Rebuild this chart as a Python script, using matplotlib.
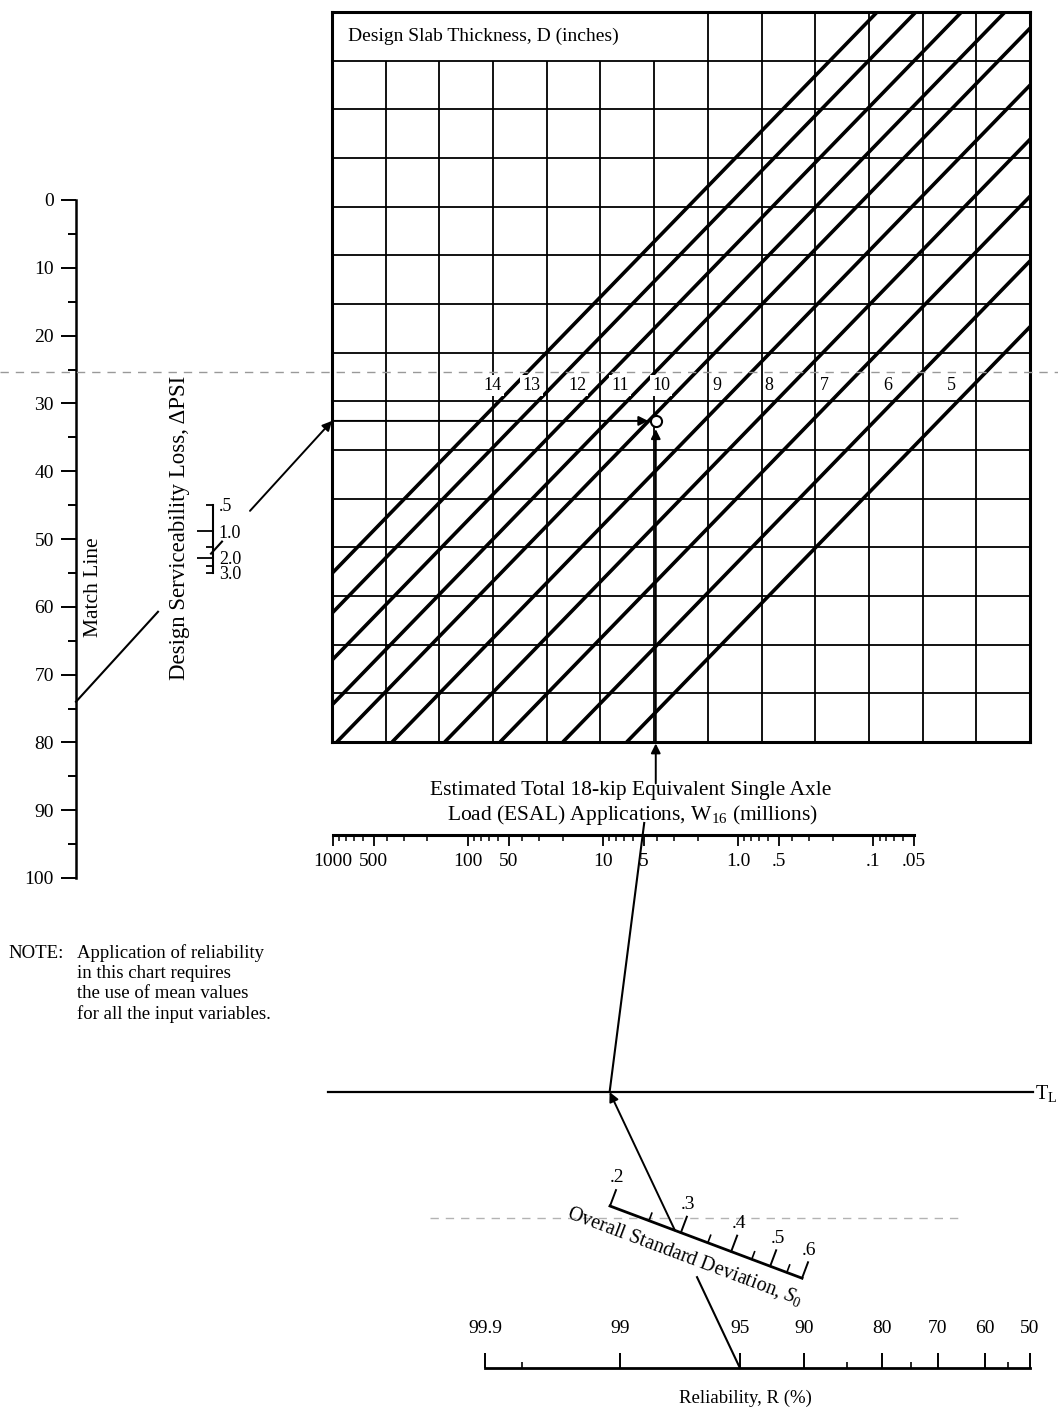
import matplotlib
matplotlib.use("Agg")
import matplotlib.pyplot as plt
import matplotlib.transforms as mtransforms
from matplotlib.ticker import FixedLocator, FixedFormatter, LogLocator, NullFormatter
from statistics import NormalDist
import numpy as np

plt.rcParams['font.family'] = ['Liberation Serif', 'DejaVu Serif']
plt.rcParams['mathtext.fontset'] = 'custom'
plt.rcParams['mathtext.rm'] = 'Liberation Serif'
plt.rcParams['mathtext.it'] = 'Liberation Serif:italic'

W, H = 1058, 1414

# --- данные шкал ---
match_major = list(range(0, 101, 10))
match_minor = list(range(5, 100, 10))

dpsi_major = [1.0, 2.0]
dpsi_major_lab = ['1.0', '2.0']
dpsi_minor = [0.5, 1.5, 2.5, 3.0]
dpsi_minor_lab = ['.5', '', '', '3.0']

slab_D = [14, 13, 12, 11, 10, 9, 8, 7, 6, 5]
slab_u0 = [-3.05, -2.33, -1.48, -0.67, 0.09, 1.12, 2.10, 3.13, 4.30, 5.49]  # столбец на нижней кромке
slab_slope = 1.136  # строк на столбец

esal_major = [1000, 500, 100, 50, 10, 5, 1.0, 0.5, 0.1, 0.05]
esal_lab = ['1000', '500', '100', '50', '10', '5', '1.0', '.5', '.1', '.05']

s0_major = [0.2, 0.3, 0.4, 0.5, 0.6]
s0_lab = ['.2', '.3', '.4', '.5', '.6']
s0_minor = [0.25, 0.35, 0.45, 0.55]

rel_major = [99.9, 99, 95, 90, 80, 70, 60, 50]
rel_lab = ['99.9', '99', '95', '90', '80', '70', '60', '50']
rel_minor = [99.8, 85, 75, 55]

# пример расчёта
ex_match = 74
ex_dpsi = 1.7
ex_S0 = 0.29
ex_R = 95
ex_W = 5.1
ex_u = 6.03

fig = plt.figure(figsize=(W / 100, H / 100), dpi=100)


def px_axes(x0, y0, x1, y1, **kw):
    return fig.add_axes([x0 / W, 1 - y1 / H, (x1 - x0) / W, (y1 - y0) / H], **kw)


def only_spine(ax, side, lw):
    for s in ax.spines:
        ax.spines[s].set_visible(s == side)
    ax.spines[side].set_linewidth(lw)
    ax.patch.set_alpha(0)


# оверлей в пикселях
ov = px_axes(0, 0, W, H, zorder=10)
ov.set_xlim(0, W)
ov.set_ylim(H, 0)
ov.axis('off')
ov.patch.set_alpha(0)


def to_ov(ax, x, y):
    return ov.transData.inverted().transform(ax.transData.transform((x, y)))


# --- Match Line ---
am = px_axes(76, 200, 86, 878)
am.set_ylim(100, 0)
am.set_xlim(0, 1)
only_spine(am, 'left', 1.8)
am.set_xticks([])
am.yaxis.set_major_locator(FixedLocator(match_major))
am.yaxis.set_minor_locator(FixedLocator(match_minor))
am.tick_params(axis='y', which='major', length=11, width=1.4, labelsize=14, pad=5)
am.tick_params(axis='y', which='minor', length=5.5, width=1.4)
ov.text(93, 587, 'Match Line', rotation=90, ha='center', va='center', fontsize=15.5)

# --- ΔPSI ---
ap = px_axes(213, 505, 214, 573)
ap.set_yscale('log')
ap.set_ylim(3.0, 0.5)
ap.set_xlim(0, 1)
only_spine(ap, 'left', 1.5)
ap.set_xticks([])
ap.yaxis.set_major_locator(FixedLocator(dpsi_major))
ap.yaxis.set_major_formatter(FixedFormatter(dpsi_major_lab))
ap.yaxis.set_minor_locator(FixedLocator(dpsi_minor))
ap.yaxis.set_minor_formatter(FixedFormatter(dpsi_minor_lab))
ap.tick_params(axis='y', which='both', left=True, right=False, labelleft=False,
               labelright=True, labelsize=13, width=1.3)
ap.tick_params(axis='y', which='major', length=11.5, pad=-8)
ap.tick_params(axis='y', which='minor', length=5, pad=-1.5)
ov.text(179, 528, 'Design Serviceability Loss, ΔPSI', rotation=90,
        ha='center', va='center', fontsize=16.5)

# --- сетка толщины плиты ---
ag = px_axes(332, 12, 1030, 742, zorder=2)
ag.set_xlim(0, 13)
ag.set_ylim(0, 15)
ag.set_xticks([])
ag.set_yticks([])
for s in ag.spines.values():
    s.set_linewidth(2.2)
ag.vlines(range(1, 7), 0, 14, color='k', lw=1.3)
ag.vlines(range(7, 13), 0, 15, color='k', lw=1.3)
ag.hlines(range(1, 15), 0, 13, color='k', lw=1.3)
ag.text(0.3, 14.5, 'Design Slab Thickness, D (inches)', va='center', fontsize=14)
v_lab = 7.33
for d, u0 in zip(slab_D, slab_u0):
    uu = np.array([u0, u0 + 15 / slab_slope])
    ag.plot(uu, slab_slope * (uu - u0), color='k', lw=2.6, solid_capstyle='butt')
    ag.annotate(str(d), (u0 + v_lab / slab_slope, v_lab), xytext=(-22, 0),
                textcoords='offset pixels', ha='center', va='center', fontsize=13,
                bbox=dict(boxstyle='square,pad=0.12', fc='white', ec='none'), zorder=4)

# --- ESAL ---
ae = px_axes(333, 825, 914, 835)
ae.set_xscale('log')
ae.set_xlim(1000, 0.05)
ae.set_ylim(0, 1)
only_spine(ae, 'bottom', 2.2)
ae.set_yticks([])
ae.xaxis.set_major_locator(FixedLocator(esal_major))
ae.xaxis.set_major_formatter(FixedFormatter(esal_lab))
ae.xaxis.set_minor_locator(LogLocator(base=10, subs=(2, 3, 4, 6, 7, 8, 9), numticks=60))
ae.xaxis.set_minor_formatter(NullFormatter())
ae.tick_params(axis='x', which='major', length=8, width=1.3, labelsize=14, pad=5)
ae.tick_params(axis='x', which='minor', length=4, width=1.1)
ov.text(631, 790, 'Estimated Total 18-kip Equivalent Single Axle',
        ha='center', va='center', fontsize=15.5)
ov.text(632, 815, 'Load (ESAL) Applications, W$_{16}$ (millions)',
        ha='center', va='center', fontsize=15.5)

# --- надёжность ---
nd = NormalDist()


def rel_fwd(r):
    r = np.clip(np.asarray(r, float), 1e-6, 100 - 1e-6)
    return np.vectorize(lambda p: nd.inv_cdf(p / 100), otypes=[float])(r)


def rel_inv(z):
    return np.vectorize(lambda q: 100 * nd.cdf(q), otypes=[float])(np.asarray(z, float))


ar = px_axes(485, 1368, 1030, 1378)
ar.set_xscale('function', functions=(rel_fwd, rel_inv))
ar.set_xlim(99.9, 50)
ar.set_ylim(0, 1)
only_spine(ar, 'top', 2.0)
ar.set_yticks([])
ar.xaxis.tick_top()
ar.xaxis.set_major_locator(FixedLocator(rel_major))
ar.xaxis.set_major_formatter(FixedFormatter(rel_lab))
ar.xaxis.set_minor_locator(FixedLocator(rel_minor))
ar.xaxis.set_minor_formatter(NullFormatter())
ar.tick_params(axis='x', which='major', length=11, width=1.4, labelsize=14, pad=11)
ar.tick_params(axis='x', which='minor', length=4.5, width=1.2)
ov.text(745, 1398, 'Reliability, R (%)', ha='center', va='center', fontsize=13.5)

# --- S0 (наклонная логарифмическая шкала) ---
s0_loc = mtransforms.Affine2D().scale(430, 1).rotate_deg(20.6).translate(610, 1206)
T = s0_loc + ov.transData
t_end = np.log10(s0_major[-1] / s0_major[0])
ov.plot([0, t_end], [0, 0], color='k', lw=2.0, transform=T, zorder=5)
for s, lab in zip(s0_major, s0_lab):
    t = np.log10(s / s0_major[0])
    ov.plot([t, t], [0, -17], color='k', lw=1.4, transform=T, zorder=5)
    ov.text(t, -21, lab, transform=T, ha='center', va='bottom', fontsize=14, zorder=5)
for s in s0_minor:
    t = np.log10(s / s0_major[0])
    ov.plot([t, t], [0, -8], color='k', lw=1.2, transform=T, zorder=5)
ov.text(0.205, 21, 'Overall Standard Deviation, $S_0$', transform=T, rotation=-20.6,
        rotation_mode='anchor', ha='center', va='center', fontsize=14.5, zorder=4)

# --- линия T_L ---
tl_y = 1092
ov.plot([328, 1033], [tl_y, tl_y], color='k', lw=1.6)
ov.text(1035, tl_y + 2, 'T$_\\mathrm{L}$', ha='left', va='center', fontsize=14.5)

# --- NOTE ---
ov.text(8, 953, 'NOTE:', ha='left', va='center', fontsize=13.5)
for i, line in enumerate(['Application of reliability', 'in this chart requires',
                          'the use of mean values', 'for all the input variables.']):
    ov.text(77, 953 + 20.3 * i, line, ha='left', va='center', fontsize=13.5)

# --- соединительные линии примера ---
arw = dict(arrowstyle='-|>', color='k', lw=1.4, mutation_scale=14, shrinkA=0, shrinkB=0)

# Match Line -> ΔPSI -> сетка
p1 = to_ov(am, 0, ex_match)
p2 = to_ov(ap, 0, ex_dpsi)
k = (p2[1] - p1[1]) / (p2[0] - p1[0])
xg = to_ov(ag, 0, 0)[0]


def yl(x):
    return p1[1] + (x - p1[0]) * k


ov.plot([p1[0], 158], [yl(p1[0]), yl(158)], color='k', lw=1.5)
ov.plot([211, 222], [yl(211), yl(222)], color='k', lw=1.5)
ov.annotate('', xy=(xg, yl(xg)), xytext=(250, yl(250)), arrowprops=arw)
v_design = ag.transData.inverted().transform(ov.transData.transform((xg, yl(xg))))[1]

# точка решения в сетке
ag.annotate('', xy=(ex_u - 0.14, v_design), xytext=(0, v_design), arrowprops=arw)
ag.annotate('', xy=(ex_u, v_design - 0.17), xytext=(ex_u, 0), arrowprops=arw)
ag.annotate('', xy=(ex_u, -0.03), xytext=(ex_u, -0.85), arrowprops=arw,
            annotation_clip=False)
ag.plot(ex_u, v_design, 'o', mfc='white', mec='k', ms=8, mew=1.5, zorder=6)

# R -> S0 -> T_L, с разрывом под подписью шкалы S0
pR = to_ov(ar, ex_R, 1)
pS = s0_loc.transform((np.log10(ex_S0 / s0_major[0]), 0))
xT = pR[0] + (tl_y - pR[1]) * (pS[0] - pR[0]) / (pS[1] - pR[1])
pT = np.array([xT, tl_y])
nR = s0_loc.inverted().transform(pR)[1]
nT = s0_loc.inverted().transform(pT)[1]
gap_n = 36


def along(n):
    return pR + (pT - pR) * (n - nR) / (nT - nR)


g_lo = along(gap_n)
g_hi = along(0)
ov.plot([pR[0], g_lo[0]], [pR[1], g_lo[1]], color='k', lw=1.5)
ov.annotate('', xy=(xT, tl_y), xytext=(g_hi[0], g_hi[1]), arrowprops=arw)

# T_L -> ESAL
pE = to_ov(ae, ex_W, 0)
y_top = 823
xE = xT + (y_top - tl_y) * (pE[0] - xT) / (pE[1] - tl_y)
ov.plot([xT, xE], [tl_y, y_top], color='k', lw=1.5)

# следы сгиба на копии
ov.plot([0, W], [372, 372], color='0.6', lw=1.0, ls=(0, (6, 5)), zorder=0.5)
ov.plot([430, 960], [1218, 1218], color='0.7', lw=1.0, ls=(0, (6, 5)), zorder=0.5)

fig.savefig('out.png', dpi=100)
